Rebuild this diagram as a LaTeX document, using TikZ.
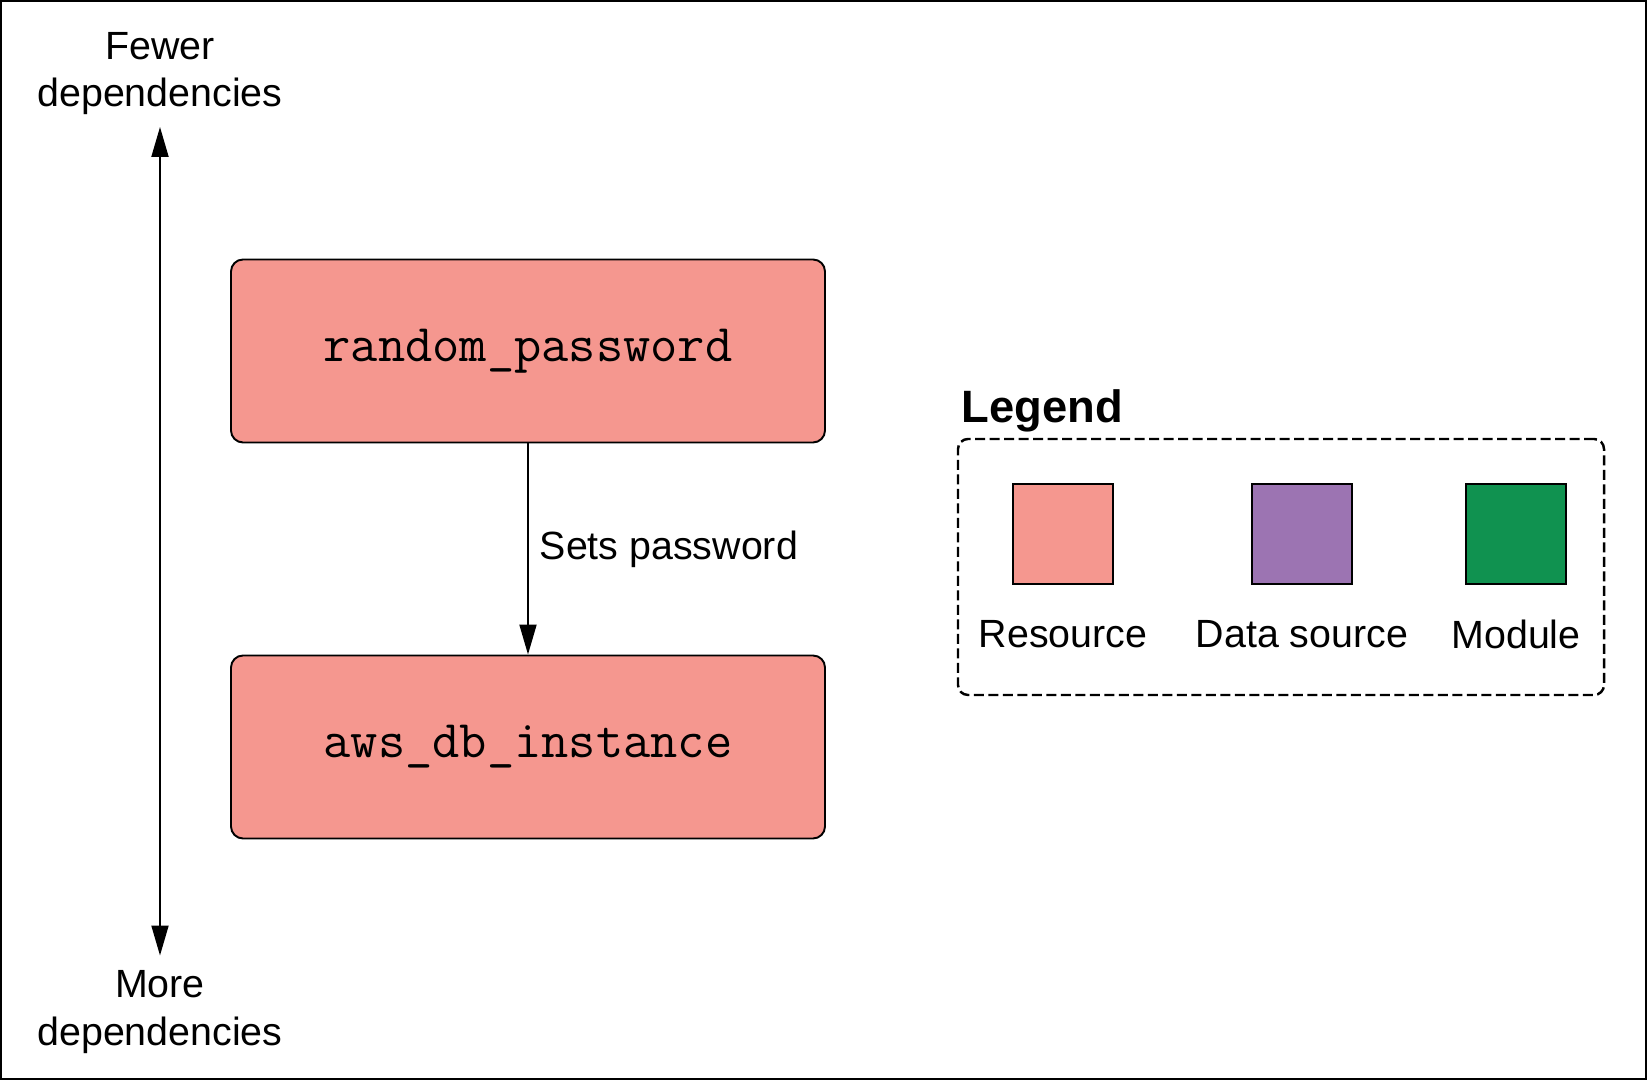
\documentclass[tikz,border=0pt]{standalone}
\usepackage{fontspec}
\setmainfont{Liberation Sans}
\usetikzlibrary{arrows.meta,positioning}
\definecolor{resource}{RGB}{245,151,143}
\definecolor{datasrc}{RGB}{156,116,178}
\definecolor{module}{RGB}{16,146,80}
\newcommand{\tfname}[1]{{\ttfamily\fontsize{30.1}{32}\selectfont #1}}
\newcommand{\legendfont}{\bfseries\fontsize{25.8}{30}\selectfont}
\tikzset{
  >={Triangle[length=0.6cm,width=0.34cm]},
  tfbox/.style={draw, line width=1.1pt, rounded corners=0.24cm, fill=resource,
    minimum width=11.88cm, minimum height=3.66cm},
  keybox/.style={draw, line width=1.1pt, minimum width=2cm, minimum height=2cm},
  keylabel/.style={inner sep=0pt},
  deplabel/.style={align=center, inner sep=0.22cm},
}

\begin{document}
\begin{tikzpicture}[font=\fontsize{22.4}{27.2}\selectfont, line width=1.1pt]
  \useasboundingbox (0,0) rectangle (32.94,21.6);
  \draw [line width=0.9pt] (0.02,0.02) rectangle (32.92,21.58);
  % dependency axis
  \node (fewer) [deplabel] at (3.2,20.13) {Fewer\\dependencies};
  \node (more) [deplabel, inner sep=0.28cm] at (3.2,1.36) {More\\dependencies};
  \draw [<->] (fewer) -- (more);
  % resources
  \node (rand-pw) [tfbox] at (10.56,14.58) {\tfname{random\_password}};
  \node (db-inst) [tfbox] at (10.56,6.66) {\tfname{aws\_db\_instance}};
  \draw [->] (rand-pw) to node [right, xshift=0.1cm] {Sets password} (db-inst);
  % legend
  \node (legend-title) [anchor=base west, inner sep=0pt, font=\legendfont] at (19.22,13.14) {Legend};
  \node (legend-box) [draw, line width=1.4pt, dash pattern=on 0.2cm off 0.09cm, rounded corners=0.2cm,
    minimum width=12.92cm, minimum height=5.12cm] at (25.62,10.26) {};
  \node (res-box) [keybox, fill=resource] at (21.26,10.92) {};
  \node (data-box) [keybox, fill=datasrc] at (26.04,10.92) {};
  \node (mod-box) [keybox, fill=module] at (30.32,10.92) {};
  \node (res-label) [keylabel, below=0.68cm of res-box] {Resource};
  \node (data-label) [keylabel, below=0.68cm of data-box] {Data source};
  \node (mod-label) [keylabel, below=0.68cm of mod-box] {Module};
\end{tikzpicture}
\end{document}
